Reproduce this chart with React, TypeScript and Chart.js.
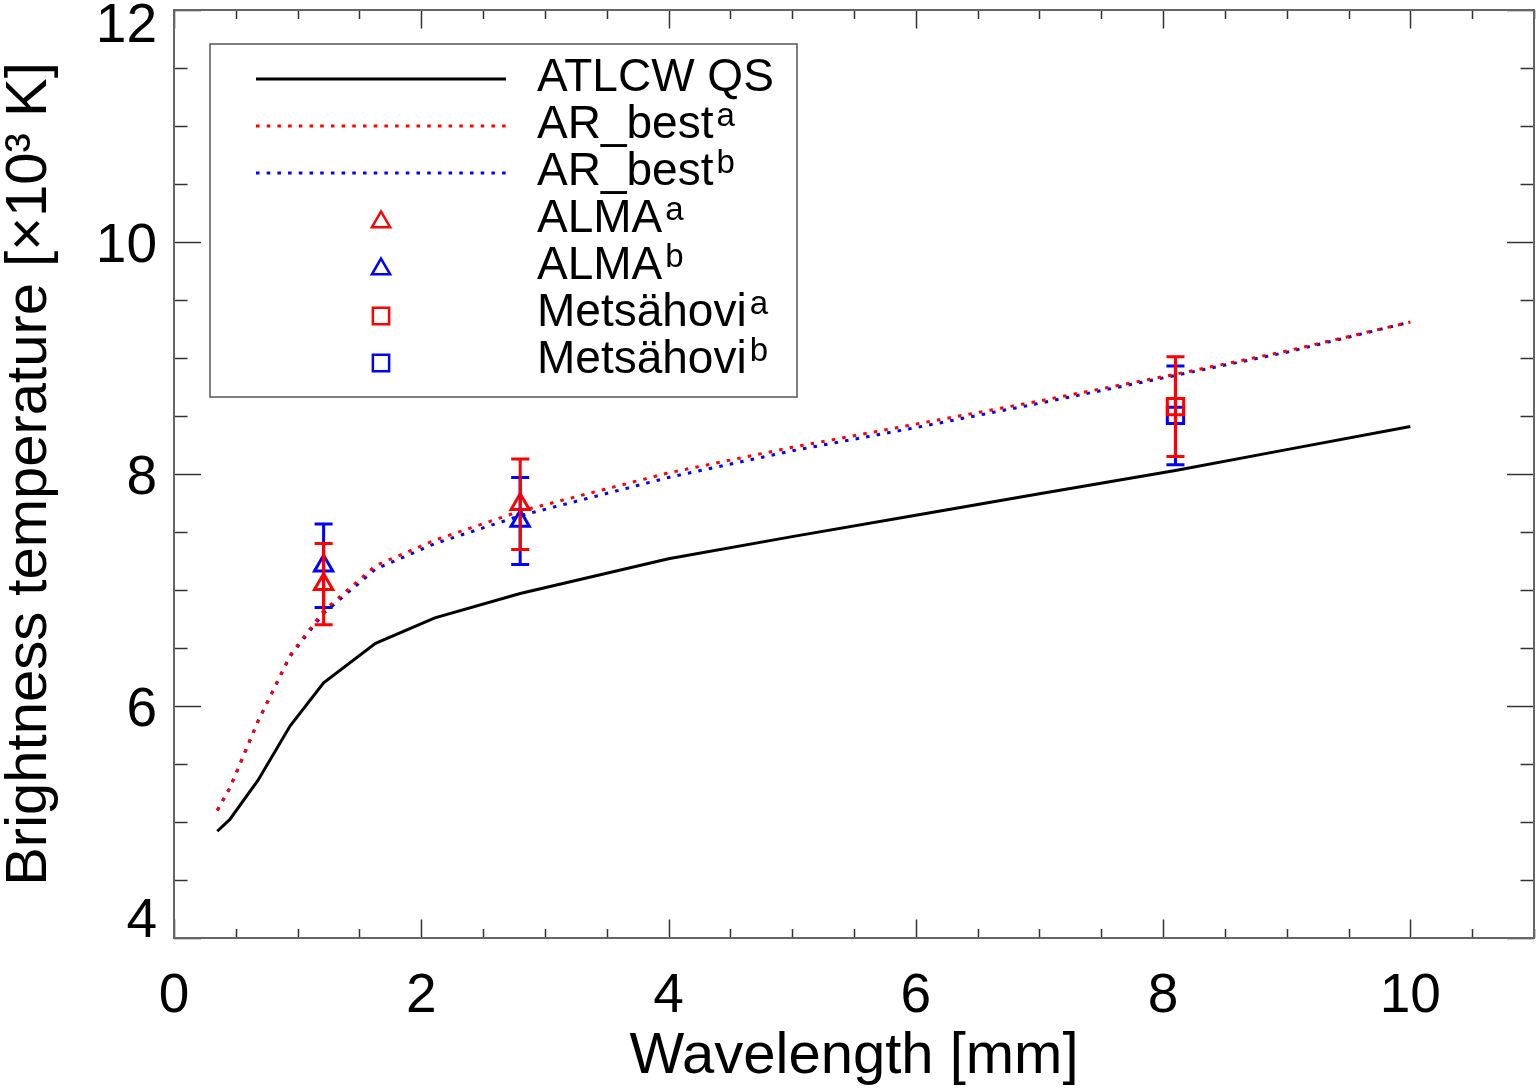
import React, { useEffect, useRef } from 'react';
import { Chart, registerables } from 'chart.js';

Chart.register(...registerables);

// ---------- data ----------
const wavelengthModel = [0.35, 0.45, 0.68, 0.94, 1.21, 1.63, 2.11, 2.8, 4, 5, 6, 7, 8.1, 9, 10];
const tbQS = [4.92, 5.02, 5.36, 5.83, 6.2, 6.54, 6.76, 6.97, 7.27, 7.46, 7.645, 7.83, 8.03, 8.21, 8.41];
const tbARbestA = [5.1, 5.29, 5.87, 6.44, 6.82, 7.21, 7.43, 7.68, 8.01, 8.23, 8.43, 8.63, 8.86, 9.06, 9.31];
const tbARbestB = [5.1, 5.29, 5.87, 6.43, 6.8, 7.18, 7.4, 7.64, 7.97, 8.2, 8.4, 8.61, 8.85, 9.05, 9.31];

const almaWavelength = [1.21, 2.8];
const almaA = [7.05, 7.74];
const almaAErr = [0.35, 0.39];
const almaB = [7.21, 7.595];
const almaBErr = [0.36, 0.375];

const metsWavelength = [8.1];
const metsA = [8.58];
const metsAErr = [0.43];
const metsB = [8.505];
const metsBErr = [0.425];

const xRange = [0, 11];
const yRange = [4, 12];
const majorStep = 2;
const minorStep = 0.5;

const legendLabels = ['ATLCW QS', 'AR_best', 'AR_best', 'ALMA', 'ALMA', 'Metsähovi', 'Metsähovi'];
const legendSup = ['', 'a', 'b', 'a', 'b', 'a', 'b'];

const xTitle = 'Wavelength [mm]';
const yTitle = 'Brightness temperature [×10³ K]';

// ---------- styles ----------
const FONT = "'Liberation Sans', Arial, Helvetica, sans-serif";
const RED = '#ff0000';
const BLUE = '#0000ff';
const DOT = [3.5, 7.2];

const pts = (xs: number[], ys: number[]) => xs.map((x, i) => ({ x, y: ys[i] }));

function drawMarker(ctx: CanvasRenderingContext2D, style: string, x: number, y: number, r: number) {
  ctx.beginPath();
  if (style === 'triangle') {
    ctx.moveTo(x, y - r);
    ctx.lineTo(x + 0.866 * r, y + 0.5 * r);
    ctx.lineTo(x - 0.866 * r, y + 0.5 * r);
    ctx.closePath();
  } else {
    const s = Math.SQRT1_2 * r;
    ctx.rect(x - s, y - s, 2 * s, 2 * s);
  }
  ctx.stroke();
}

const axesPlugin = {
  id: 'idlAxes',
  afterDatasetsDraw(chart: any) {
    const ctx = chart.ctx as CanvasRenderingContext2D;
    const xs = chart.scales.x;
    const ys = chart.scales.y;
    const dsList = chart.data.datasets as any[];
    for (let i = dsList.length - 1; i >= 0; i--) {
      const ds = dsList[i];
      if (!ds.err) continue;
      ctx.save();
      ctx.strokeStyle = ds.borderColor;
      ctx.lineWidth = 3;
      ds.data.forEach((p: any, j: number) => {
        const px = xs.getPixelForValue(p.x);
        const pt = ys.getPixelForValue(p.y + ds.err[j]);
        const pb = ys.getPixelForValue(p.y - ds.err[j]);
        ctx.beginPath();
        ctx.moveTo(px, pt);
        ctx.lineTo(px, pb);
        ctx.moveTo(px - 9, pt);
        ctx.lineTo(px + 9, pt);
        ctx.moveTo(px - 9, pb);
        ctx.lineTo(px + 9, pb);
        ctx.stroke();
      });
      ctx.restore();
    }
  },
  afterDraw(chart: any) {
    const ctx = chart.ctx as CanvasRenderingContext2D;
    const { left, right, top, bottom } = chart.chartArea;
    const xs = chart.scales.x;
    const ys = chart.scales.y;
    ctx.save();
    // ticks
    ctx.strokeStyle = '#333';
    ctx.lineWidth = 1.5;
    ctx.beginPath();
    for (let v = xRange[0]; v <= xRange[1] + 1e-9; v += minorStep) {
      const px = Math.round(xs.getPixelForValue(v)) + 0.5;
      const major = Math.abs(v / majorStep - Math.round(v / majorStep)) < 1e-9;
      const len = major ? 18.5 : 9;
      ctx.moveTo(px, bottom);
      ctx.lineTo(px, bottom - len);
      ctx.moveTo(px, top);
      ctx.lineTo(px, top + len);
    }
    for (let v = yRange[0]; v <= yRange[1] + 1e-9; v += minorStep) {
      const py = Math.round(ys.getPixelForValue(v)) + 0.5;
      const major = Math.abs(v / majorStep - Math.round(v / majorStep)) < 1e-9;
      const len = major ? 27 : 13.5;
      ctx.moveTo(left, py);
      ctx.lineTo(left + len, py);
      ctx.moveTo(right, py);
      ctx.lineTo(right - len, py);
    }
    ctx.stroke();
    // frame
    ctx.strokeStyle = '#666';
    ctx.lineWidth = 2;
    ctx.strokeRect(left, top, right - left, bottom - top);

    // y tick labels
    ctx.fillStyle = '#000';
    ctx.font = `55px ${FONT}`;
    ctx.textAlign = 'right';
    ctx.textBaseline = 'alphabetic';
    ys.ticks.forEach((t: any) => {
      const py = ys.getPixelForValue(t.value);
      const c = Math.min(Math.max(py, top + 12), bottom - 21);
      ctx.fillText(String(t.value), left - 17, c + 19.7);
    });

    // legend
    const bx = 210, by = 44, bw = 587, bh = 353;
    ctx.fillStyle = '#fff';
    ctx.fillRect(bx, by, bw, bh);
    ctx.strokeStyle = '#555';
    ctx.lineWidth = 1.5;
    ctx.strokeRect(bx, by, bw, bh);
    const entries = (chart.data.datasets as any[])
      .filter((d) => d.legendOrder !== undefined)
      .sort((a, b) => a.legendOrder - b.legendOrder);
    entries.forEach((ds, i) => {
      const cy = 79 + 47 * i;
      ctx.save();
      if (ds.showLine !== false) {
        ctx.strokeStyle = ds.borderColor;
        ctx.lineWidth = ds.borderWidth;
        ctx.setLineDash(ds.borderDash || []);
        ctx.beginPath();
        ctx.moveTo(256, cy);
        ctx.lineTo(506, cy);
        ctx.stroke();
      } else {
        ctx.strokeStyle = ds.borderColor;
        ctx.lineWidth = 2.5;
        drawMarker(ctx, ds.pointStyle, 381, cy + 2, ds.legendR);
      }
      ctx.restore();
      const lbl = legendLabels[ds.legendOrder];
      const sup = legendSup[ds.legendOrder];
      ctx.fillStyle = '#000';
      ctx.textAlign = 'left';
      ctx.textBaseline = 'alphabetic';
      ctx.font = `46px ${FONT}`;
      ctx.fillText(lbl, 537, cy + 12);
      if (sup) {
        const w = ctx.measureText(lbl).width;
        ctx.font = `33px ${FONT}`;
        ctx.fillText(sup, 537 + w + 3, cy);
      }
    });
    ctx.restore();
  },
};

export default function App() {
  const ref = useRef<HTMLCanvasElement | null>(null);

  useEffect(() => {
    if (!ref.current) return;
    const markerBase = {
      type: 'scatter' as const,
      showLine: false,
      backgroundColor: 'rgba(0,0,0,0)',
      pointBackgroundColor: 'rgba(0,0,0,0)',
      pointBorderWidth: 3,
    };
    const chart = new Chart(ref.current, {
      type: 'scatter',
      data: {
        datasets: [
          {
            ...markerBase,
            label: legendLabels[3],
            legendOrder: 3,
            data: pts(almaWavelength, almaA),
            err: almaAErr,
            borderColor: RED,
            pointBorderColor: RED,
            pointStyle: 'triangle',
            pointRadius: 10.5,
            legendR: 10.5,
          } as any,
          {
            ...markerBase,
            label: legendLabels[5],
            legendOrder: 5,
            data: pts(metsWavelength, metsA),
            err: metsAErr,
            borderColor: RED,
            pointBorderColor: RED,
            pointStyle: 'rect',
            pointRadius: 11.5,
            legendR: 11.5,
          } as any,
          {
            ...markerBase,
            label: legendLabels[4],
            legendOrder: 4,
            data: pts(almaWavelength, almaB),
            err: almaBErr,
            borderColor: BLUE,
            pointBorderColor: BLUE,
            pointStyle: 'triangle',
            pointRadius: 10.5,
            legendR: 10.5,
          } as any,
          {
            ...markerBase,
            label: legendLabels[6],
            legendOrder: 6,
            data: pts(metsWavelength, metsB),
            err: metsBErr,
            borderColor: BLUE,
            pointBorderColor: BLUE,
            pointStyle: 'rect',
            pointRadius: 11.5,
            legendR: 11.5,
          } as any,
          {
            type: 'line',
            label: legendLabels[1],
            legendOrder: 1,
            data: pts(wavelengthModel, tbARbestA),
            borderColor: RED,
            borderWidth: 3,
            borderDash: DOT,
            pointRadius: 0,
            tension: 0,
            fill: false,
          } as any,
          {
            type: 'line',
            label: legendLabels[2],
            legendOrder: 2,
            data: pts(wavelengthModel, tbARbestB),
            borderColor: BLUE,
            borderWidth: 3,
            borderDash: DOT,
            pointRadius: 0,
            tension: 0,
            fill: false,
          } as any,
          {
            type: 'line',
            label: legendLabels[0],
            legendOrder: 0,
            data: pts(wavelengthModel, tbQS),
            borderColor: '#000',
            borderWidth: 3,
            pointRadius: 0,
            tension: 0,
            fill: false,
          } as any,
        ],
      },
      options: {
        responsive: false,
        animation: false,
        devicePixelRatio: 1,
        events: [],
        layout: { autoPadding: false, padding: { top: 10, right: 2, left: 0, bottom: 0 } },
        plugins: { legend: { display: false }, tooltip: { enabled: false } },
        scales: {
          x: {
            type: 'linear',
            min: xRange[0],
            max: xRange[1],
            afterFit: (s: any) => {
              s.height = 151;
              s.paddingLeft = 0;
              s.paddingRight = 0;
            },
            ticks: {
              stepSize: majorStep,
              includeBounds: false,
              autoSkip: false,
              maxRotation: 0,
              font: { family: FONT, size: 55 },
              color: '#000',
              padding: 26,
            },
            grid: { display: false, drawTicks: false },
            border: { display: false },
            title: {
              display: true,
              text: xTitle,
              color: '#000',
              font: { family: FONT, size: 58, lineHeight: 1 },
              padding: { top: 0, bottom: 3 },
            },
          },
          y: {
            type: 'linear',
            min: yRange[0],
            max: yRange[1],
            afterFit: (s: any) => {
              s.width = 174;
              s.paddingTop = 0;
              s.paddingBottom = 0;
            },
            ticks: { stepSize: majorStep, display: false },
            grid: { display: false, drawTicks: false },
            border: { display: false },
            title: {
              display: true,
              text: yTitle,
              color: '#000',
              font: { family: FONT, size: 58, lineHeight: 1 },
              padding: { top: 1, bottom: 0 },
            },
          },
        },
      } as any,
      plugins: [axesPlugin],
    });
    return () => chart.destroy();
  }, []);

  return (
    <div style={{ position: 'absolute', left: 0, top: 0, width: 1536, height: 1089, background: '#fff' }}>
      <canvas ref={ref} width={1536} height={1089} style={{ display: 'block' }} />
    </div>
  );
}
